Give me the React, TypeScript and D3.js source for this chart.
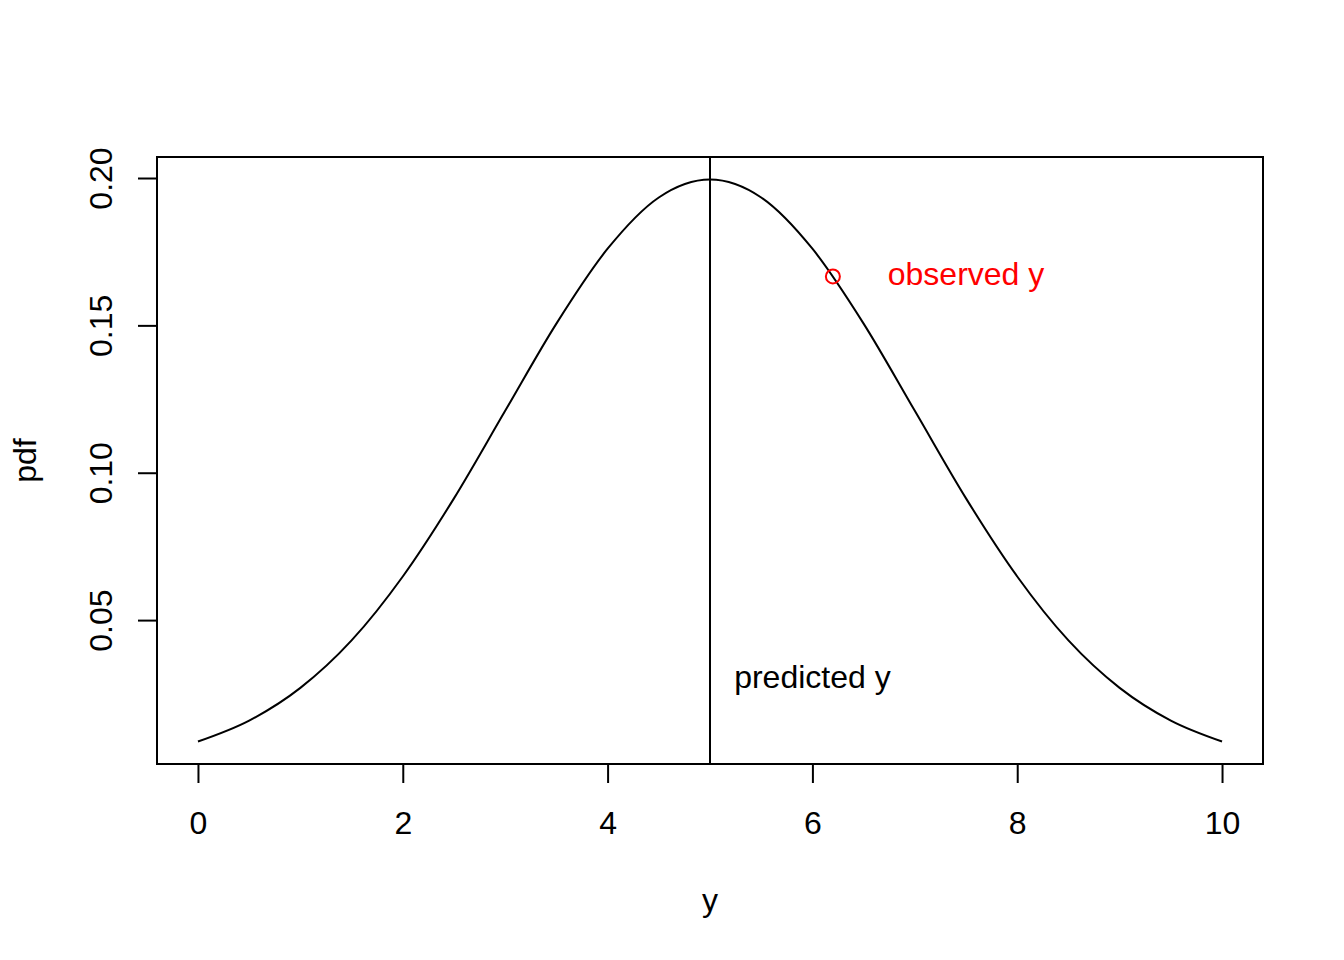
import * as d3 from "d3";
import { useEffect, useRef } from "react";

// curve values
const yValues = [0, 0.5, 1, 1.5, 2, 2.5, 3, 3.5, 4, 4.5, 5, 5.5, 6, 6.5, 7, 7.5, 8, 8.5, 9, 9.5, 10];
const pdfValues = [
    0.0088, 0.0159, 0.027, 0.0431, 0.0648, 0.0913, 0.121, 0.1506, 0.176, 0.1934, 0.1995,
    0.1934, 0.176, 0.1506, 0.121, 0.0913, 0.0648, 0.0431, 0.027, 0.0159, 0.0088
];
const xTicks = [0, 2, 4, 6, 8, 10];
const yTicks = [0.05, 0.1, 0.15, 0.2];
const predictedY = 5;
const observed = { y: 6.2, pdf: 0.1666 };
const annotations = [
    { label: "predicted y", x: 6, y: 0.03, color: "#000" },
    { label: "observed y", x: 7.5, y: 0.1666, color: "#ff0000" }
];

const App = () => {
    const svgRef = useRef<SVGSVGElement | null>(null);

    useEffect(() => {
        if (!svgRef.current) return;

        const width = 1344;
        const height = 960;
        const plot = { left: 157, right: 1263, top: 157, bottom: 764 };
        const font = "'Liberation Sans', Arial, sans-serif";
        const fs = 32;

        const svg = d3.select(svgRef.current)
            .attr("width", width)
            .attr("height", height)
            .style("background", "#fff");
        svg.selectAll("*").remove();

        const data = yValues.map((x, i) => ({ x, y: pdfValues[i] }));

        // R-style 4% range extension
        const xMin = d3.min(yValues)!, xMax = d3.max(yValues)!;
        const yMin = d3.min(pdfValues)!, yMax = d3.max(pdfValues)!;
        const xPad = (xMax - xMin) * 0.04;
        const yPad = (yMax - yMin) * 0.04;

        const xScale = d3.scaleLinear()
            .domain([xMin - xPad, xMax + xPad])
            .range([plot.left, plot.right]);
        const yScale = d3.scaleLinear()
            .domain([yMin - yPad, yMax + yPad])
            .range([plot.bottom, plot.top]);

        const line = d3.line<{ x: number; y: number }>()
            .x(d => xScale(d.x))
            .y(d => yScale(d.y))
            .curve(d3.curveCardinal.tension(0));

        svg.append("path")
            .datum(data)
            .attr("fill", "none")
            .attr("stroke", "#000")
            .attr("stroke-width", 2)
            .attr("d", line);

        // vertical line at predicted value
        svg.append("line")
            .attr("x1", xScale(predictedY)).attr("x2", xScale(predictedY))
            .attr("y1", plot.top).attr("y2", plot.bottom)
            .attr("stroke", "#000")
            .attr("stroke-width", 2);

        svg.append("circle")
            .attr("cx", xScale(observed.y))
            .attr("cy", yScale(observed.pdf))
            .attr("r", 7)
            .attr("fill", "none")
            .attr("stroke", "#ff0000")
            .attr("stroke-width", 2);

        svg.selectAll("text.annot")
            .data(annotations)
            .enter()
            .append("text")
            .attr("class", "annot")
            .attr("x", d => xScale(d.x))
            .attr("y", d => yScale(d.y) + 9)
            .attr("text-anchor", "middle")
            .attr("font-family", font)
            .attr("font-size", fs)
            .attr("fill", d => d.color)
            .text(d => d.label);

        // box
        svg.append("rect")
            .attr("x", plot.left).attr("y", plot.top)
            .attr("width", plot.right - plot.left)
            .attr("height", plot.bottom - plot.top)
            .attr("fill", "none")
            .attr("stroke", "#000")
            .attr("stroke-width", 2);

        // x axis
        const xAxis = svg.append("g")
            .attr("transform", `translate(0,${plot.bottom})`)
            .call(d3.axisBottom(xScale).tickValues(xTicks).tickSize(19).tickFormat(d3.format("d")));
        xAxis.select(".domain")
            .attr("d", `M${xScale(xTicks[0])},0H${xScale(xTicks[xTicks.length - 1])}`)
            .attr("stroke-width", 2);
        xAxis.selectAll(".tick line").attr("stroke-width", 2);
        xAxis.selectAll(".tick text")
            .attr("font-family", font)
            .attr("font-size", fs)
            .attr("dy", null)
            .attr("y", 70);

        // y axis
        const yAxis = svg.append("g")
            .attr("transform", `translate(${plot.left},0)`)
            .call(d3.axisLeft(yScale).tickValues(yTicks).tickSize(19).tickFormat(d3.format(".2f")));
        yAxis.select(".domain")
            .attr("d", `M0,${yScale(yTicks[0])}V${yScale(yTicks[yTicks.length - 1])}`)
            .attr("stroke-width", 2);
        yAxis.selectAll(".tick line").attr("stroke-width", 2);
        yAxis.selectAll(".tick text")
            .attr("font-family", font)
            .attr("font-size", fs)
            .attr("x", null)
            .attr("dy", null)
            .attr("text-anchor", "middle")
            .attr("transform", "translate(-45,0) rotate(-90)");

        // axis titles
        svg.append("text")
            .attr("x", (plot.left + plot.right) / 2)
            .attr("y", 911)
            .attr("text-anchor", "middle")
            .attr("font-family", font)
            .attr("font-size", fs)
            .text("y");

        svg.append("text")
            .attr("transform", `translate(36,${(plot.top + plot.bottom) / 2}) rotate(-90)`)
            .attr("text-anchor", "middle")
            .attr("font-family", font)
            .attr("font-size", fs)
            .text("pdf");
    }, []);

    return <svg ref={svgRef} style={{ position: "absolute", left: 0, top: 0, display: "block" }}></svg>;
};

export default App;
